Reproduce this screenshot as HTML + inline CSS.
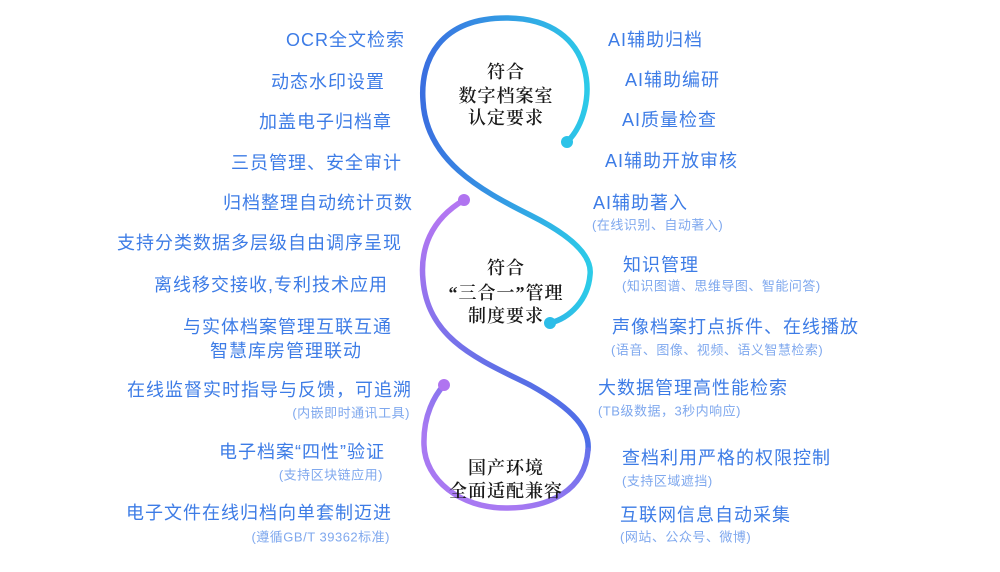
<!DOCTYPE html>
<html><head><meta charset="utf-8"><style>
body{margin:0;width:1000px;height:572px;background:#fff;position:relative;overflow:hidden;font-family:"Liberation Sans","Noto Sans CJK SC",sans-serif}
.t{position:absolute;white-space:nowrap;transform:translateY(-50%);line-height:1}
.m{font-size:18px;color:#3d7ce6;letter-spacing:1px}
.s{font-size:13px;color:#7fa8ee;letter-spacing:0.5px}
.L{text-align:right}
.c{position:absolute;left:406px;width:200px;text-align:center;font-family:"Liberation Serif","Noto Serif CJK SC",serif;font-size:18px;font-weight:600;color:#1a1a1a;line-height:1;transform:translateY(-50%);letter-spacing:1px}
svg{position:absolute;left:0;top:0}
</style></head><body>
<svg width="1000" height="572">
<defs>
<linearGradient id="gA" gradientUnits="userSpaceOnUse" x1="423" y1="100" x2="590" y2="100">
<stop offset="0" stop-color="#3a6fe0"/><stop offset="1" stop-color="#2ccbe8"/></linearGradient>
<linearGradient id="gB" gradientUnits="userSpaceOnUse" x1="440" y1="210" x2="590" y2="470">
<stop offset="0" stop-color="#b577f2"/><stop offset="0.6" stop-color="#5a6fe6"/><stop offset="1" stop-color="#4a6ee8"/></linearGradient>
<linearGradient id="gC" gradientUnits="userSpaceOnUse" x1="506" y1="500" x2="590" y2="400">
<stop offset="0" stop-color="#a879f2"/><stop offset="1" stop-color="#4a6ee8"/></linearGradient>
</defs>
<path d="M567,142 C600,110 600,18 506,18 C440,18 420,60 423,101 C426,160 480,190 530,215 C580,240 592,260 590,275 C588,300 570,318 550,323" fill="none" stroke="url(#gA)" stroke-width="5.5" stroke-linecap="round"/>
<path d="M464,200 C430,220 420,250 423,280 C428,340 480,360 530,385 C575,410 590,430 588,450" fill="none" stroke="url(#gB)" stroke-width="5.5" stroke-linecap="round"/>
<path d="M588,450 C585,490 550,508 506,508 C460,508 425,480 424,445 C423,415 435,395 444,385" fill="none" stroke="url(#gC)" stroke-width="5.5" stroke-linecap="round"/>
<circle cx="567" cy="142" r="6" fill="#2cc3e8"/>
<circle cx="550" cy="323" r="6" fill="#2cbde8"/>
<circle cx="464" cy="200" r="6" fill="#b074f0"/>
<circle cx="444" cy="385" r="6" fill="#b074f0"/>
</svg>

<div class="c" style="top:72px">符合</div>
<div class="c" style="top:96px">数字档案室</div>
<div class="c" style="top:118px">认定要求</div>
<div class="c" style="top:268px">符合</div>
<div class="c" style="top:293px">“三合一”管理</div>
<div class="c" style="top:316px">制度要求</div>
<div class="c" style="top:468px">国产环境</div>
<div class="c" style="top:491px">全面适配兼容</div>

<div class="t m L" style="right:595px;top:40px">OCR全文检索</div>
<div class="t m L" style="right:615px;top:82px">动态水印设置</div>
<div class="t m L" style="right:608px;top:122px">加盖电子归档章</div>
<div class="t m L" style="right:598px;top:163px">三员管理、安全审计</div>
<div class="t m L" style="right:587px;top:203px">归档整理自动统计页数</div>
<div class="t m L" style="right:598px;top:243px">支持分类数据多层级自由调序呈现</div>
<div class="t m L" style="right:612px;top:285px">离线移交接收,专利技术应用</div>
<div class="t m L" style="right:608px;top:327px">与实体档案管理互联互通</div>
<div class="t m L" style="right:638px;top:351px">智慧库房管理联动</div>
<div class="t m L" style="right:588px;top:390px">在线监督实时指导与反馈，可追溯</div>
<div class="t s L" style="right:590px;top:413px">(内嵌即时通讯工具)</div>
<div class="t m L" style="right:615px;top:452px">电子档案“四性”验证</div>
<div class="t s L" style="right:617px;top:475px">(支持区块链应用)</div>
<div class="t m L" style="right:608px;top:513px">电子文件在线归档向单套制迈进</div>
<div class="t s L" style="right:610px;top:537px">(遵循GB/T 39362标准)</div>

<div class="t m" style="left:608px;top:40px">AI辅助归档</div>
<div class="t m" style="left:625px;top:80px">AI辅助编研</div>
<div class="t m" style="left:622px;top:120px">AI质量检查</div>
<div class="t m" style="left:605px;top:161px">AI辅助开放审核</div>
<div class="t m" style="left:593px;top:203px">AI辅助著入</div>
<div class="t s" style="left:592px;top:225px">(在线识别、自动著入)</div>
<div class="t m" style="left:623px;top:265px">知识管理</div>
<div class="t s" style="left:622px;top:286px">(知识图谱、思维导图、智能问答)</div>
<div class="t m" style="left:612px;top:327px">声像档案打点拆件、在线播放</div>
<div class="t s" style="left:611px;top:350px">(语音、图像、视频、语义智慧检索)</div>
<div class="t m" style="left:598px;top:388px">大数据管理高性能检索</div>
<div class="t s" style="left:598px;top:411px">(TB级数据，3秒内响应)</div>
<div class="t m" style="left:622px;top:458px">查档利用严格的权限控制</div>
<div class="t s" style="left:622px;top:481px">(支持区域遮挡)</div>
<div class="t m" style="left:620px;top:515px">互联网信息自动采集</div>
<div class="t s" style="left:620px;top:537px">(网站、公众号、微博)</div>
</body></html>
